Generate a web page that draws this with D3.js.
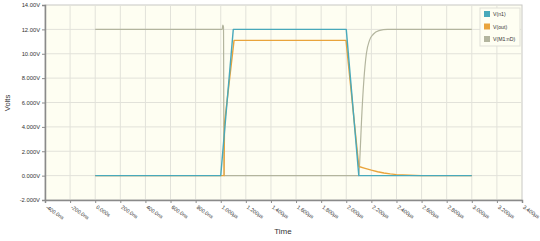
<!DOCTYPE html>
<html>
<head>
<meta charset="utf-8">
<script src="https://cdn.jsdelivr.net/npm/d3@7"></script>
<style>
  body { margin: 0; background: #fff; }
  text { font-family: "Liberation Sans", Arial, sans-serif; fill: #333; }
</style>
</head>
<body>
<svg id="chart" width="540" height="241"></svg>
<script>
// time in ns, volts
const vN1 = [[0, 0], [1000, 0], [1100, 12], [2000, 12], [2100, 0], [3000, 0]];
const vOut = [[0, 0], [1026, 0], [1030, 4.3], [1106, 11.1], [1998, 11.1], [2100, 0.75],
    [2150, 0.6], [2200, 0.45], [2250, 0.32], [2300, 0.22], [2350, 0.14], [2400, 0.08],
    [2500, 0.03], [2600, 0], [3000, 0]];
const vM1nD = [[0, 12], [1012, 12], [1016, 12.35], [1022, 12.2], [1026, 0], [2100, 0],
    [2110, 1.8], [2122, 4.6], [2140, 7.8], [2160, 10.0], [2185, 11.1], [2215, 11.6],
    [2260, 11.9], [2330, 12], [3000, 12]];

const seriesNames = ["V(n1)", "V(out)", "V(M1:nD)"];
const seriesColors = ["#48a9bb", "#e9a43c", "#b3b59e"];
const xTicks = [-400, -200, 0, 200, 400, 600, 800, 1000, 1200, 1400, 1600, 1800,
    2000, 2200, 2400, 2600, 2800, 3000, 3200, 3400];
const xTickLabels = ["-400.0ns", "-200.0ns", "0.000s", "200.0ns", "400.0ns", "600.0ns",
    "800.0ns", "1.000µs", "1.200µs", "1.400µs", "1.600µs", "1.800µs", "2.000µs",
    "2.200µs", "2.400µs", "2.600µs", "2.800µs", "3.000µs", "3.200µs", "3.400µs"];
const yTicks = [-2, 0, 2, 4, 6, 8, 10, 12, 14];
const yTickLabels = ["-2.000V", "0.000V", "2.000V", "4.000V", "6.000V", "8.000V",
    "10.00V", "12.00V", "14.00V"];

const svg = d3.select("#chart");
const mLeft = 45, mRight = 522, mTop = 5, mBottom = 200;

const x = d3.scaleLinear().domain([-400, 3400]).range([mLeft, mRight]);
const y = d3.scaleLinear().domain([-2, 14]).range([mBottom, mTop]);

// plot background
svg.append("rect")
    .attr("x", mLeft).attr("y", mTop)
    .attr("width", mRight - mLeft).attr("height", mBottom - mTop)
    .attr("fill", "#fefef2")
    .attr("stroke", "#c8c8c4")
    .attr("stroke-width", 1);

// grid
svg.append("g").selectAll("line")
    .data(xTicks.slice(1, -1))
    .join("line")
    .attr("x1", d => x(d)).attr("x2", d => x(d))
    .attr("y1", mTop).attr("y2", mBottom)
    .attr("stroke", "#e2e2da").attr("stroke-width", 1);

svg.append("g").selectAll("line")
    .data(yTicks.slice(1, -1))
    .join("line")
    .attr("x1", mLeft).attr("x2", mRight)
    .attr("y1", d => y(d)).attr("y2", d => y(d))
    .attr("stroke", "#e2e2da").attr("stroke-width", 1);

// axes
const xAxis = d3.axisBottom(x)
    .tickValues(xTicks)
    .tickFormat((d, i) => xTickLabels[i])
    .tickSize(3);
const gx = svg.append("g")
    .attr("transform", `translate(0,${mBottom})`)
    .call(xAxis);
gx.select(".domain").attr("stroke", "#8a8a8a").attr("stroke-width", 1.5);
gx.selectAll(".tick line").attr("stroke", "#8a8a8a");
gx.selectAll(".tick text")
    .attr("font-size", 5.3)
    .attr("fill", "#444")
    .attr("text-anchor", "start")
    .attr("dy", null)
    .attr("y", 0)
    .attr("transform", "translate(0,8) rotate(35)");

const yAxis = d3.axisLeft(y)
    .tickValues(yTicks)
    .tickFormat((d, i) => yTickLabels[i])
    .tickSize(3);
const gy = svg.append("g")
    .attr("transform", `translate(${mLeft},0)`)
    .call(yAxis);
gy.select(".domain").attr("stroke", "#8a8a8a").attr("stroke-width", 1.5);
gy.selectAll(".tick line").attr("stroke", "#8a8a8a");
gy.selectAll(".tick text")
    .attr("font-size", 5.8)
    .attr("fill", "#444")
    .attr("x", -5);

// axis titles
svg.append("text")
    .attr("x", 283).attr("y", 234)
    .attr("text-anchor", "middle")
    .attr("font-size", 8)
    .text("Time");
svg.append("text")
    .attr("transform", "translate(10,103) rotate(-90)")
    .attr("text-anchor", "middle")
    .attr("font-size", 7.5)
    .text("Volts");

// traces: pulse traces straight, the gate curve smooth
const lineStraight = d3.line().x(d => x(d[0])).y(d => y(d[1]));
const lineSmooth = d3.line().x(d => x(d[0])).y(d => y(d[1])).curve(d3.curveMonotoneX);
const series = [vN1, vOut, vM1nD];
const drawOrder = [2, 1, 0];
for (let i of drawOrder) {
    svg.append("path")
        .datum(series[i])
        .attr("d", i === 2 ? lineSmooth : lineStraight)
        .attr("fill", "none")
        .attr("stroke", seriesColors[i])
        .attr("stroke-width", i === 2 ? 1.2 : 1.4)
        .attr("stroke-linejoin", "round");
}

// legend
const lg = svg.append("g").attr("transform", "translate(480,8)");
lg.append("rect")
    .attr("width", 40).attr("height", 38)
    .attr("fill", "#fefef2")
    .attr("stroke", "#e0e0d8");
seriesNames.forEach((name, i) => {
    lg.append("rect")
        .attr("x", 4).attr("y", 3 + i * 12.5)
        .attr("width", 6).attr("height", 6)
        .attr("fill", seriesColors[i]);
    lg.append("text")
        .attr("x", 13).attr("y", 8 + i * 12.5)
        .attr("font-size", 5.2)
        .text(name);
});
</script>
</body>
</html>
